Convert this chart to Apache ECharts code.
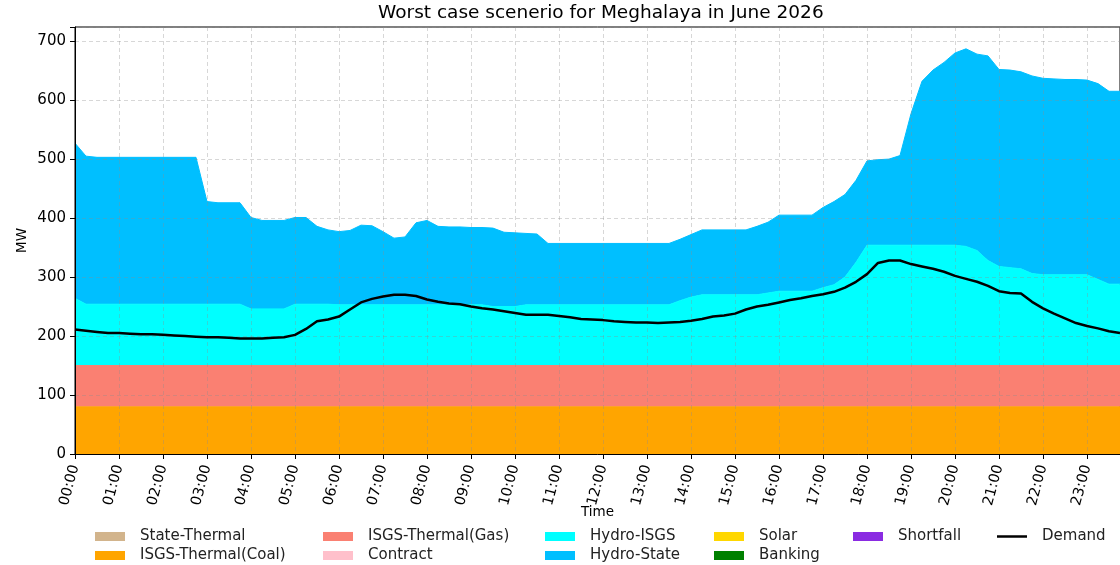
<!DOCTYPE html>
<html>
<head>
<meta charset="utf-8">
<title>Worst case scenerio for Meghalaya in June 2026</title>
<script src="https://cdn.jsdelivr.net/npm/echarts@6.0.0/dist/echarts.min.js"></script>
<style>
  html, body { margin: 0; padding: 0; background: #fff; }
  #main { width: 1120px; height: 565px; }
</style>
</head>
<body>
<div id="main"></div>
<script>
// 15 minute blocks, 00:00 .. 23:45
const times = []
for (let h = 0; h < 24; h++) {
  for (let m = 0; m < 60; m += 15) {
    times.push(String(h).padStart(2, '0') + ':' + String(m).padStart(2, '0'))
  }
}

// sources with nothing in them for this month
const noSupply = [
  0, 0, 0, 0, 0, 0, 0, 0,  0, 0, 0, 0, 0, 0, 0, 0,
  0, 0, 0, 0, 0, 0, 0, 0,  0, 0, 0, 0, 0, 0, 0, 0,
  0, 0, 0, 0, 0, 0, 0, 0,  0, 0, 0, 0, 0, 0, 0, 0,
  0, 0, 0, 0, 0, 0, 0, 0,  0, 0, 0, 0, 0, 0, 0, 0,
  0, 0, 0, 0, 0, 0, 0, 0,  0, 0, 0, 0, 0, 0, 0, 0,
  0, 0, 0, 0, 0, 0, 0, 0,  0, 0, 0, 0, 0, 0, 0, 0
]
const stateThermal = noSupply
const contract = noSupply
const solar = noSupply
const banking = noSupply
const shortfall = noSupply

const isgsCoal = [
  80, 80, 80, 80, 80, 80, 80, 80,  80, 80, 80, 80, 80, 80, 80, 80,
  80, 80, 80, 80, 80, 80, 80, 80,  80, 80, 80, 80, 80, 80, 80, 80,
  80, 80, 80, 80, 80, 80, 80, 80,  80, 80, 80, 80, 80, 80, 80, 80,
  80, 80, 80, 80, 80, 80, 80, 80,  80, 80, 80, 80, 80, 80, 80, 80,
  80, 80, 80, 80, 80, 80, 80, 80,  80, 80, 80, 80, 80, 80, 80, 80,
  80, 80, 80, 80, 80, 80, 80, 80,  80, 80, 80, 80, 80, 80, 80, 80
]
const isgsGas = [
  70, 70, 70, 70, 70, 70, 70, 70,  70, 70, 70, 70, 70, 70, 70, 70,
  70, 70, 70, 70, 70, 70, 70, 70,  70, 70, 70, 70, 70, 70, 70, 70,
  70, 70, 70, 70, 70, 70, 70, 70,  70, 70, 70, 70, 70, 70, 70, 70,
  70, 70, 70, 70, 70, 70, 70, 70,  70, 70, 70, 70, 70, 70, 70, 70,
  70, 70, 70, 70, 70, 70, 70, 70,  70, 70, 70, 70, 70, 70, 70, 70,
  70, 70, 70, 70, 70, 70, 70, 70,  70, 70, 70, 70, 70, 70, 70, 70
]
const hydroIsgs = [
  114, 104, 104, 104, 104, 104, 104, 104,  104, 104, 104, 104, 104, 104, 104, 104,
  96, 96, 96, 96, 104, 104, 104, 104,      103, 103, 103, 103, 103, 103, 103, 103,
  103, 103, 103, 103, 103, 103, 100, 100,  100, 103, 103, 103, 103, 103, 103, 103,
  103, 103, 103, 103, 103, 103, 103, 110,  116, 120, 120, 120, 120, 120, 120, 123,
  126, 126, 126, 126, 132, 137, 150, 175,  204, 204, 204, 204, 204, 204, 204, 204,
  204, 202, 195, 178, 168, 166, 164, 156,  154, 154, 154, 154, 154, 146, 138, 138
]
const hydroState = [
  263, 251, 249, 249, 249, 249, 249, 249,  249, 249, 249, 249, 174, 172, 172, 172,
  155, 150, 150, 150, 147, 147, 132, 126,  124, 126, 135, 134, 124, 113, 115, 139,
  143, 133, 132, 132, 131, 131, 133, 126,  125, 121, 120, 104, 104, 104, 104, 104,
  104, 104, 104, 104, 104, 104, 104, 104,  106, 110, 110, 110, 110, 110, 116, 120,
  129, 129, 129, 129, 136, 141, 140, 139,  143, 145, 146, 152, 223, 278, 297, 310,
  326, 335, 333, 347, 334, 335, 334, 335,  333, 332, 331, 331, 330, 332, 327, 327
]
const demand = [
  211, 209, 207, 205, 205, 204, 203, 203,  202, 201, 200, 199, 198, 198, 197, 196,
  196, 196, 197, 198, 202, 212, 225, 228,  233, 245, 257, 263, 267, 270, 270, 268,
  262, 258, 255, 254, 250, 247, 245, 242,  239, 236, 236, 236, 234, 232, 229, 228,
  227, 225, 224, 223, 223, 222, 223, 224,  226, 229, 233, 235, 238, 245, 250, 253,
  257, 261, 264, 268, 271, 275, 282, 292,  305, 324, 328, 328, 322, 318, 314, 309,
  302, 297, 292, 285, 276, 273, 272, 258,  247, 238, 230, 222, 217, 213, 208, 205
]

const FONT = 'DejaVu Sans'

// stack order, bottom to top
const stackSeries = [
  ['State-Thermal', stateThermal, '#d2b48c'],
  ['ISGS-Thermal(Coal)', isgsCoal, '#ffa500'],
  ['ISGS-Thermal(Gas)', isgsGas, '#fa8072'],
  ['Contract', contract, '#ffc0cb'],
  ['Hydro-ISGS', hydroIsgs, '#00ffff'],
  ['Hydro-State', hydroState, '#00bfff'],
  ['Solar', solar, '#ffd700'],
  ['Banking', banking, '#008000'],
  ['Shortfall', shortfall, '#8a2be2']
]

const series = stackSeries.map(([name, data, color]) => {
  const empty = data === noSupply
  return {
    name: name,
    type: 'line',
    stack: 'supply',
    data: data,
    color: color,
    symbol: 'none',
    z: 2,
    lineStyle: { width: empty ? 0 : 1, color: color },
    areaStyle: { color: color, opacity: 1 },
    emphasis: { disabled: true }
  }
})
series.push({
  name: 'Demand',
  type: 'line',
  data: demand,
  color: '#000',
  symbol: 'none',
  z: 4,
  lineStyle: { width: 2.5, color: '#000' },
  emphasis: { disabled: true }
})

// legend laid out in columns like the matplotlib one
const legendCols = [
  { left: 95, names: ['State-Thermal', 'ISGS-Thermal(Coal)'] },
  { left: 323, names: ['ISGS-Thermal(Gas)', 'Contract'] },
  { left: 545, names: ['Hydro-ISGS', 'Hydro-State'] },
  { left: 714, names: ['Solar', 'Banking'] },
  { left: 853, names: ['Shortfall'] },
  { left: 997, names: ['Demand'] }
]
const legends = legendCols.map(col => ({
  orient: 'vertical',
  left: col.left,
  top: 529,
  padding: 0,
  itemWidth: 30,
  itemHeight: 9,
  itemGap: 4,
  symbolKeepAspect: true,
  selectedMode: false,
  textStyle: { fontFamily: FONT, fontSize: 15, color: '#222', lineHeight: 15, padding: [0, 0, 0, 10] },
  data: col.names.map(n => n === 'Demand'
    ? { name: n, icon: 'path://M0,0H60V5H0Z', itemStyle: { color: '#000' } }
    : { name: n, icon: 'rect' })
}))

const gridLine = { type: [4, 3], color: 'rgba(140,140,140,0.35)', width: 1 }

var myChart = echarts.init(document.getElementById('main'))

var option = {
  animation: false,
  title: {
    text: 'Worst case scenerio for Meghalaya in June 2026',
    left: 378,
    top: 4,
    padding: 0,
    textStyle: { fontFamily: FONT, fontSize: 18.5, fontWeight: 'normal', color: '#000' }
  },
  legend: legends,
  grid: {
    left: 75,
    right: -4,
    top: 27,
    bottom: 111,
    show: true,
    borderColor: '#000',
    borderWidth: 1,
    backgroundColor: 'transparent'
  },
  xAxis: {
    type: 'category',
    data: times,
    boundaryGap: false,
    z: 3,
    name: 'Time',
    nameLocation: 'middle',
    nameGap: 51,
    nameMoveOverlap: false,
    nameTextStyle: { fontFamily: FONT, fontSize: 13.5, color: '#000' },
    axisLine: { lineStyle: { color: '#000', width: 1 } },
    axisTick: { interval: 3, length: 5, lineStyle: { color: '#000' } },
    axisLabel: {
      interval: 3,
      rotate: 75,
      margin: 11,
      padding: [12, 0, 0, 0],
      fontFamily: FONT,
      fontSize: 14.5,
      color: '#000'
    },
    splitLine: { show: true, interval: 3, lineStyle: gridLine }
  },
  yAxis: {
    type: 'value',
    min: 0,
    max: 724,
    interval: 100,
    z: 3,
    name: 'MW',
    nameLocation: 'middle',
    nameGap: 46,
    nameMoveOverlap: false,
    nameTextStyle: { fontFamily: FONT, fontSize: 13.5, color: '#000' },
    axisLine: { show: true, lineStyle: { color: '#000', width: 1 } },
    axisTick: { show: true, length: 5, lineStyle: { color: '#000' } },
    axisLabel: {
      margin: 9,
      fontFamily: FONT,
      fontSize: 15,
      color: '#000',
      formatter: v => (v % 100 === 0 ? String(v) : '')
    },
    splitLine: { show: true, lineStyle: gridLine }
  },
  series: series
}

myChart.setOption(option)
</script>
</body>
</html>
